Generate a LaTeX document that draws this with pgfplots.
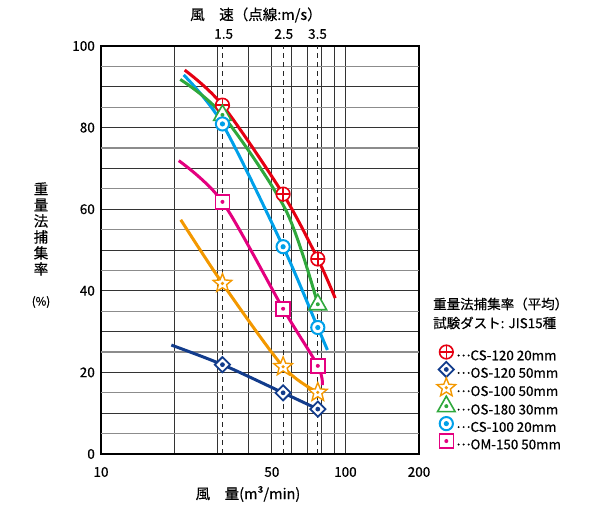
\documentclass[border=0pt]{standalone}
\usepackage{fontspec}
\setmainfont{Noto Sans CJK JP}[FakeBold=0.5]
\usepackage{pgfplots}
\pgfplotsset{compat=1.18}
\definecolor{cRed}{HTML}{E60012}
\definecolor{cNavy}{HTML}{123C8C}
\definecolor{cOrange}{HTML}{F39800}
\definecolor{cGreen}{HTML}{2FA83C}
\definecolor{cCyan}{HTML}{00A0E9}
\definecolor{cMag}{HTML}{E4007F}
\newcommand\mkdot[2]{\pgfsetfillcolor{#1}\pgfpathcircle{\pgfpointorigin}{#2}\pgfusepathqfill}
\newcommand\dd{\raisebox{0.3em}{…}}
\pgfdeclareplotmark{mRed}{%
  \pgfsetdash{}{0pt}\pgfsetlinewidth{1.6pt}\pgfsetstrokecolor{cRed}\pgfsetfillcolor{white}%
  \pgfpathcircle{\pgfpointorigin}{6.8pt}\pgfusepathqfillstroke
  \pgfpathmoveto{\pgfpoint{-6.8pt}{0pt}}\pgfpathlineto{\pgfpoint{6.8pt}{0pt}}%
  \pgfpathmoveto{\pgfpoint{0pt}{-6.8pt}}\pgfpathlineto{\pgfpoint{0pt}{6.8pt}}%
  \pgfusepathqstroke}
\pgfdeclareplotmark{mNavy}{%
  \pgfsetdash{}{0pt}\pgfsetlinewidth{1.8pt}\pgfsetstrokecolor{cNavy}\pgfsetfillcolor{white}%
  \pgfpathmoveto{\pgfpoint{0pt}{7.6pt}}\pgfpathlineto{\pgfpoint{7.6pt}{0pt}}%
  \pgfpathlineto{\pgfpoint{0pt}{-7.6pt}}\pgfpathlineto{\pgfpoint{-7.6pt}{0pt}}\pgfpathclose
  \pgfusepathqfillstroke\mkdot{cNavy}{2.4pt}}
\pgfdeclareplotmark{mOrange}{%
  \pgfsetdash{}{0pt}\pgfsetlinewidth{1.4pt}\pgfsetstrokecolor{cOrange}\pgfsetfillcolor{white}%
  \pgfpathmoveto{\pgfpointpolar{90}{9.8pt}}\pgfpathlineto{\pgfpointpolar{126}{4.3pt}}%
  \pgfpathlineto{\pgfpointpolar{162}{9.8pt}}\pgfpathlineto{\pgfpointpolar{198}{4.3pt}}%
  \pgfpathlineto{\pgfpointpolar{234}{9.8pt}}\pgfpathlineto{\pgfpointpolar{270}{4.3pt}}%
  \pgfpathlineto{\pgfpointpolar{306}{9.8pt}}\pgfpathlineto{\pgfpointpolar{342}{4.3pt}}%
  \pgfpathlineto{\pgfpointpolar{18}{9.8pt}}\pgfpathlineto{\pgfpointpolar{54}{4.3pt}}\pgfpathclose
  \pgfusepathqfillstroke\mkdot{cOrange}{1.8pt}}
\pgfdeclareplotmark{mGreen}{%
  \pgfsetdash{}{0pt}\pgfsetlinewidth{1.6pt}\pgfsetstrokecolor{cGreen}\pgfsetfillcolor{white}%
  \pgfpathmoveto{\pgfpoint{0pt}{10pt}}\pgfpathlineto{\pgfpoint{-8.8pt}{-5.5pt}}%
  \pgfpathlineto{\pgfpoint{8.8pt}{-5.5pt}}\pgfpathclose
  \pgfusepathqfillstroke\mkdot{cGreen}{2pt}}
\pgfdeclareplotmark{mCyan}{%
  \pgfsetdash{}{0pt}\pgfsetlinewidth{2pt}\pgfsetstrokecolor{cCyan}\pgfsetfillcolor{white}%
  \pgfpathcircle{\pgfpointorigin}{6.6pt}\pgfusepathqfillstroke\mkdot{cCyan}{2.6pt}}
\pgfdeclareplotmark{mMag}{%
  \pgfsetdash{}{0pt}\pgfsetlinewidth{1.5pt}\pgfsetstrokecolor{cMag}\pgfsetfillcolor{white}%
  \pgfpathrectangle{\pgfpoint{-7pt}{-7pt}}{\pgfpoint{14pt}{14pt}}\pgfusepathqfillstroke\mkdot{cMag}{2pt}}
\begin{document}
\begin{tikzpicture}
\useasboundingbox (-101pt,-52pt) rectangle (499pt,454pt);
\begin{axis}[
  at={(0pt,0pt)}, anchor=south west,
  scale only axis, width=318pt, height=408pt,
  xmode=log, xmin=10, xmax=200, ymin=0, ymax=100,
  xtick={10,50,100,200}, xticklabels={10,50,100,200},
  minor xtick={20,30,40,60,70,80,90},
  ytick={0,20,40,60,80,100}, yticklabels={0,20,40,60,80,100},
  minor ytick={10,30,50,70,90},
  extra y ticks={5,15,25,35,45,55,65,75,85,95}, extra y tick labels={},
  extra y tick style={grid=major, major grid style={black!45, line width=1.3pt}},
  xmajorgrids, xminorgrids, ymajorgrids, yminorgrids,
  major grid style={black!80, line width=0.8pt},
  minor grid style={black!80, line width=0.8pt},
  major tick length=0pt, minor tick length=0pt,
  axis line style={black, line width=1.1pt},
  tick label style={font=\fontsize{13.5}{15}\selectfont, inner sep=0pt},
  xticklabel style={anchor=center, yshift=-18pt},
  yticklabel style={anchor=east, xshift=-6pt},
  legend style={at={(axis description cs:1.0566,0.272)}, anchor=north west,
    draw=none, fill=none, inner sep=0pt, outer sep=0pt, row sep=-1.3pt,
    font=\fontsize{13.4}{14}\selectfont, nodes={inner sep=0pt}},
  legend cell align=left,
  legend image code/.code={\path[draw=none,fill=none] (0pt,-5pt) rectangle (19pt,13pt); \draw[#1] plot coordinates {(9pt,4pt)};},
]
% dashed wind speed lines
\draw[dash pattern=on 5pt off 4pt, black!85, line width=1pt] (axis cs:31.4,0) -- (axis cs:31.4,100);
\draw[dash pattern=on 5pt off 4pt, black!85, line width=1pt] (axis cs:55.6,0) -- (axis cs:55.6,100);
\draw[dash pattern=on 5pt off 4pt, black!85, line width=1pt] (axis cs:77.1,0) -- (axis cs:77.1,100);
% curves
\addplot[forget plot, cNavy, line width=3pt, smooth] coordinates {(19.4,26.7) (31.4,21.9) (55.6,15.0) (77.1,11.0)};
\addplot[forget plot, cOrange, line width=3pt, smooth] coordinates {(21.2,57.4) (31.4,41.8) (55.6,21.4) (77.1,15.1)};
\addplot[forget plot, cMag, line width=3pt, smooth] coordinates {(20.8,71.9) (31.4,61.8) (55.6,35.6) (77.1,21.6) (80.5,16.9)};
\addplot[forget plot, cCyan, line width=3pt, smooth] coordinates {(21.8,92.9) (31.4,80.9) (55.6,50.8) (77.1,31.0) (84.4,25.5)};
\addplot[forget plot, cGreen, line width=3pt, smooth] coordinates {(21.1,91.8) (31.4,83.1) (57.0,59.8) (77.1,36.7)};
\addplot[forget plot, cRed, line width=3pt, smooth] coordinates {(22.0,94.1) (31.4,85.5) (55.6,63.7) (77.1,47.8) (90.8,38.2)};
% markers
\addplot[only marks, mark=mRed] coordinates {(31.4,85.5) (55.6,63.7) (77.1,47.8)};
\addlegendentry{\dd CS-120 20mm}
\addplot[only marks, mark=mNavy] coordinates {(31.4,21.9) (55.6,15.0) (77.1,11.0)};
\addlegendentry{\dd OS-120 50mm}
\addplot[only marks, mark=mOrange] coordinates {(31.4,41.8) (55.6,21.4) (77.1,15.1)};
\addlegendentry{\dd OS-100 50mm}
\addplot[only marks, mark=mGreen] coordinates {(31.4,83.1) (77.1,36.7)};
\addlegendentry{\dd OS-180 30mm}
\addplot[only marks, mark=mCyan] coordinates {(31.4,80.9) (55.6,50.8) (77.1,31.0)};
\addlegendentry{\dd CS-100 20mm}
\addplot[only marks, mark=mMag] coordinates {(31.4,61.8) (55.6,35.6) (77.1,21.6)};
\addlegendentry{\dd OM-150 50mm}
\end{axis}
% texts
\node[font=\fontsize{14.5}{15}\selectfont] at (155pt,439pt) {風　速（点線:m/s）};
\node[font=\fontsize{13.5}{15}\selectfont] at (122.7pt,420pt) {1.5};
\node[font=\fontsize{13.5}{15}\selectfont] at (182.8pt,420pt) {2.5};
\node[font=\fontsize{13.5}{15}\selectfont] at (216.5pt,420pt) {3.5};
\node[font=\fontsize{14.5}{15}\selectfont] at (147pt,-40pt) {風　量(m³/min)};
\node[font=\fontsize{14.5}{16}\selectfont, align=center, inner sep=0pt] at (-60pt,225pt) {重\\量\\法\\捕\\集\\率};
\node[font=\fontsize{11.5}{13}\selectfont, inner sep=0pt] at (-60pt,152pt) {(\%)};
\node[font=\fontsize{13.5}{15}\selectfont, anchor=west, inner sep=0pt] at (332pt,150pt) {重量法捕集率（平均）};
\node[font=\fontsize{13.5}{15}\selectfont, anchor=west, inner sep=0pt] at (332pt,131pt) {試験ダスト: JIS15種};
\end{tikzpicture}
\end{document}
